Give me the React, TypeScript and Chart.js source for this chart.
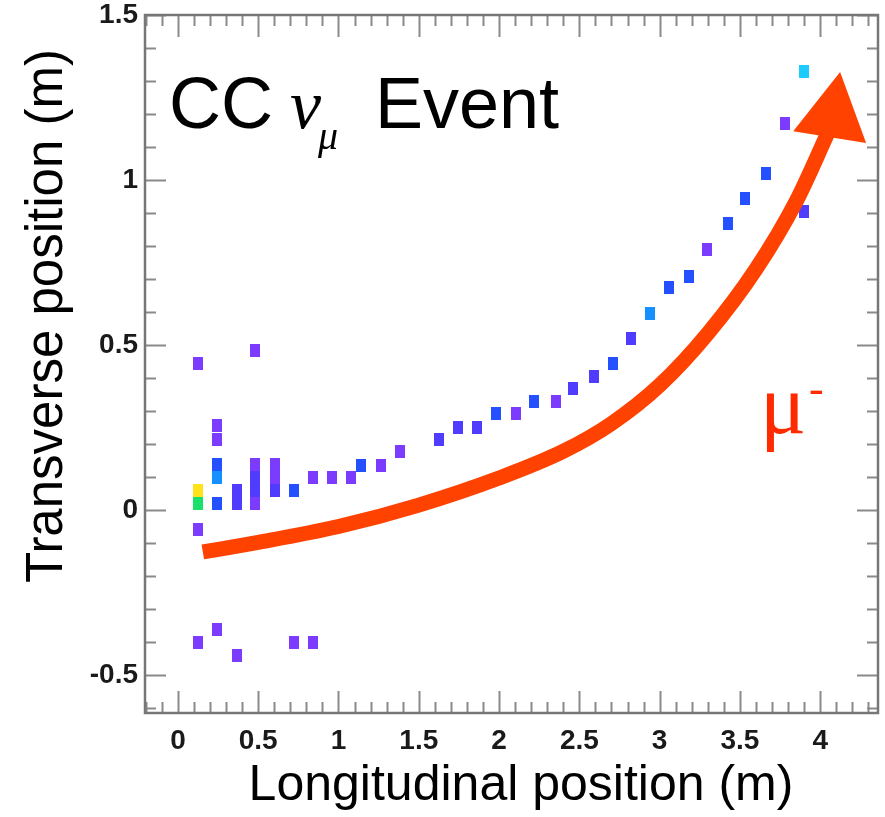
import React, { useEffect, useRef } from "react";
import { Chart, registerables } from "chart.js";

Chart.register(...registerables);

// ---------- axes ----------
const xRange = [-0.205, 4.36];
const yRange = [-0.615, 1.5];
const xTickValues = [0, 0.5, 1, 1.5, 2, 2.5, 3, 3.5, 4];
const xTickLabels = ["0", "0.5", "1", "1.5", "2", "2.5", "3", "3.5", "4"];
const yTickValues = [-0.5, 0, 0.5, 1, 1.5];
const yTickLabels = ["-0.5", "0", "0.5", "1", "1.5"];
const minorStep = 0.1;
const majorStep = 0.5;
const xTitle = "Longitudinal position (m)";
const yTitle = "Transverse position (m)";

// ---------- detector hits (x = longitudinal m, y = transverse m) ----------
const violetHits: [number, number][] = [
  [0.126, 0.445], [0.126, -0.058], [0.126, -0.4],
  [0.244, 0.255], [0.244, 0.215], [0.244, -0.362],
  [0.365, -0.44],
  [0.483, 0.483], [0.483, 0.137], [0.483, 0.02],
  [0.602, 0.137], [0.602, 0.098],
  [0.72, -0.4],
  [0.84, 0.098], [0.84, -0.4],
  [0.961, 0.098], [1.081, 0.098],
  [1.265, 0.136], [1.383, 0.177],
  [2.104, 0.291], [2.352, 0.328], [3.298, 0.79], [3.78, 1.172],
];
const blueVioletHits: [number, number][] = [
  [0.365, 0.06], [0.365, 0.02], [0.483, 0.098], [0.483, 0.059], [0.602, 0.059],
  [1.623, 0.214], [1.745, 0.25], [1.861, 0.25], [2.46, 0.369], [2.59, 0.404],
  [2.824, 0.52], [3.9, 0.904],
];
const blueHits: [number, number][] = [
  [0.244, 0.137], [0.244, 0.02], [0.72, 0.06], [1.141, 0.136], [1.98, 0.291],
  [2.217, 0.328], [2.708, 0.445], [3.06, 0.675], [3.18, 0.709], [3.424, 0.867],
  [3.532, 0.944], [3.66, 1.02],
];
const azureHits: [number, number][] = [[0.244, 0.098], [2.942, 0.596]];
const cyanHits: [number, number][] = [[3.9, 1.328]];
const yellowHits: [number, number][] = [[0.126, 0.06]];
const greenHits: [number, number][] = [[0.126, 0.02]];

// ---------- muon track arrow ----------
const muonTrackX = [0.155, 0.5, 1.0, 1.5, 2.0, 2.4, 2.7, 3.0, 3.3, 3.6, 3.85, 4.05];
const muonTrackY = [-0.127, -0.098, -0.05, 0.015, 0.097, 0.178, 0.262, 0.378, 0.535, 0.73, 0.935, 1.145];
const arrowHeadX = [3.832, 4.124, 4.286];
const arrowHeadY = [1.148, 1.327, 1.112];

const trackColor = "#FF4200";
const muLabelColor = "#FF2A00";

function makeHit(color: string) {
  const c = document.createElement("canvas");
  c.width = 10;
  c.height = 13;
  const g = c.getContext("2d")!;
  g.fillStyle = color;
  g.fillRect(0, 0, 10, 13);
  return c;
}

const toPts = (arr: [number, number][]) => arr.map(([x, y]) => ({ x, y }));

const rootPlugin = {
  id: "rootFrame",
  afterDatasetsDraw(chart: any) {
    const { ctx, chartArea: ca, scales } = chart;
    const xs = scales.x;
    const ys = scales.y;
    ctx.save();
    // arrow head
    ctx.fillStyle = trackColor;
    ctx.beginPath();
    arrowHeadX.forEach((vx, i) => {
      const px = xs.getPixelForValue(vx);
      const py = ys.getPixelForValue(arrowHeadY[i]);
      if (i === 0) ctx.moveTo(px, py);
      else ctx.lineTo(px, py);
    });
    ctx.closePath();
    ctx.fill();

    // ticks
    ctx.strokeStyle = "#8a8a8a";
    ctx.lineWidth = 2;
    const isMajor = (v: number) => Math.abs(v / majorStep - Math.round(v / majorStep)) < 1e-6;
    ctx.beginPath();
    for (let k = Math.ceil(xRange[0] / minorStep); k * minorStep <= xRange[1] + 1e-9; k++) {
      const v = k * minorStep;
      const px = Math.round(xs.getPixelForValue(v)) + 0.5;
      const L = isMajor(v) ? 22 : 11;
      ctx.moveTo(px, ca.bottom);
      ctx.lineTo(px, ca.bottom - L);
      ctx.moveTo(px, ca.top);
      ctx.lineTo(px, ca.top + L);
    }
    for (let k = Math.ceil(yRange[0] / minorStep); k * minorStep <= yRange[1] + 1e-9; k++) {
      const v = k * minorStep;
      const py = Math.round(ys.getPixelForValue(v)) + 0.5;
      const L = isMajor(v) ? 21 : 11;
      ctx.moveTo(ca.left, py);
      ctx.lineTo(ca.left + L, py);
      ctx.moveTo(ca.right, py);
      ctx.lineTo(ca.right - L, py);
    }
    ctx.stroke();

    // frame
    ctx.strokeStyle = "#777";
    ctx.lineWidth = 2.5;
    ctx.strokeRect(ca.left, ca.top, ca.right - ca.left, ca.bottom - ca.top);
    ctx.restore();
  },
  afterDraw(chart: any) {
    const { ctx, chartArea: ca } = chart;
    ctx.save();
    ctx.textBaseline = "alphabetic";
    ctx.fillStyle = "#000";
    // event title
    ctx.textAlign = "left";
    ctx.font = "72px 'Liberation Sans'";
    ctx.fillText("CC", ca.left + 24, ca.top + 113);
    ctx.font = "italic 70px 'Liberation Serif'";
    ctx.fillText("ν", ca.left + 145, ca.top + 113);
    ctx.font = "italic 40px 'Liberation Serif'";
    ctx.fillText("μ", ca.left + 173, ca.top + 134);
    ctx.font = "72px 'Liberation Sans'";
    ctx.fillText("Event", ca.left + 230, ca.top + 113);

    // mu- label
    ctx.fillStyle = muLabelColor;
    ctx.font = "86px 'Liberation Serif'";
    ctx.fillText("μ", ca.left + 615, ca.top + 418);
    ctx.font = "44px 'Liberation Serif'";
    ctx.fillText("-", ca.left + 664, ca.top + 388);

    // axis titles
    ctx.fillStyle = "#000";
    ctx.font = "50px 'Liberation Sans'";
    ctx.textAlign = "center";
    ctx.fillText(xTitle, 521, 800);
    ctx.translate(62, 316);
    ctx.rotate(-Math.PI / 2);
    ctx.font = "51px 'Liberation Sans'";
    ctx.fillText(yTitle, 0, 0);
    ctx.restore();
  },
};

export default function App() {
  const ref = useRef<HTMLCanvasElement>(null);
  useEffect(() => {
    const canvas = ref.current!;
    const pointStyles = {
      violet: makeHit("#7B3CFF"),
      blueViolet: makeHit("#4F3CFF"),
      blue: makeHit("#2450FF"),
      azure: makeHit("#1590FF"),
      cyan: makeHit("#1CCBFF"),
      yellow: makeHit("#FFE21A"),
      green: makeHit("#18E06A"),
    };
    const hitDs = (label: string, arr: [number, number][], style: HTMLCanvasElement) => ({
      label,
      data: toPts(arr),
      pointStyle: style,
      pointRadius: 6,
      showLine: false,
    });
    const tickFont = { family: "'Liberation Sans'", size: 28, weight: "bold" };
    const chart = new Chart(canvas, {
      type: "scatter",
      data: {
        datasets: [
          {
            label: "muon",
            data: muonTrackX.map((x, i) => ({ x, y: muonTrackY[i] })),
            showLine: true,
            borderColor: trackColor,
            backgroundColor: trackColor,
            borderWidth: 15,
            pointRadius: 0,
            cubicInterpolationMode: "monotone",
            borderCapStyle: "butt",
            borderJoinStyle: "round",
          } as any,
          hitDs("violet", violetHits, pointStyles.violet),
          hitDs("blueViolet", blueVioletHits, pointStyles.blueViolet),
          hitDs("blue", blueHits, pointStyles.blue),
          hitDs("azure", azureHits, pointStyles.azure),
          hitDs("cyan", cyanHits, pointStyles.cyan),
          hitDs("yellow", yellowHits, pointStyles.yellow),
          hitDs("green", greenHits, pointStyles.green),
        ],
      },
      options: {
        animation: false,
        responsive: false,
        devicePixelRatio: 1,
        layout: { padding: { top: 15, right: 5, left: 0, bottom: 0 } },
        plugins: { legend: { display: false }, tooltip: { enabled: false } },
        scales: {
          x: {
            type: "linear",
            min: xRange[0],
            max: xRange[1],
            grid: { display: false, drawTicks: false },
            border: { display: false },
            ticks: {
              font: tickFont,
              color: "#1a1a1a",
              padding: 11,
              maxRotation: 0,
              autoSkip: false,
              callback: (v: any) => {
                const i = xTickValues.indexOf(Number(v));
                return i >= 0 ? xTickLabels[i] : "";
              },
            },
            afterBuildTicks: (s: any) => {
              s.ticks = xTickValues.map((value) => ({ value }));
            },
            afterFit: (s: any) => {
              s.height = 104;
              s.paddingLeft = 0;
              s.paddingRight = 0;
            },
          },
          y: {
            type: "linear",
            min: yRange[0],
            max: yRange[1],
            grid: { display: false, drawTicks: false },
            border: { display: false },
            ticks: {
              font: tickFont,
              color: "#1a1a1a",
              padding: 7,
              autoSkip: false,
              callback: (v: any) => {
                const i = yTickValues.indexOf(Number(v));
                return i >= 0 ? yTickLabels[i] : "";
              },
            },
            afterBuildTicks: (s: any) => {
              s.ticks = yTickValues.map((value) => ({ value }));
            },
            afterFit: (s: any) => {
              s.width = 145;
              s.paddingTop = 0;
              s.paddingBottom = 0;
            },
          },
        },
      } as any,
      plugins: [rootPlugin],
    });
    return () => chart.destroy();
  }, []);
  return (
    <div style={{ position: "absolute", left: 0, top: 0, width: 885, height: 817, background: "#fff" }}>
      <canvas ref={ref} width={885} height={817} style={{ display: "block", width: 885, height: 817 }} />
    </div>
  );
}
